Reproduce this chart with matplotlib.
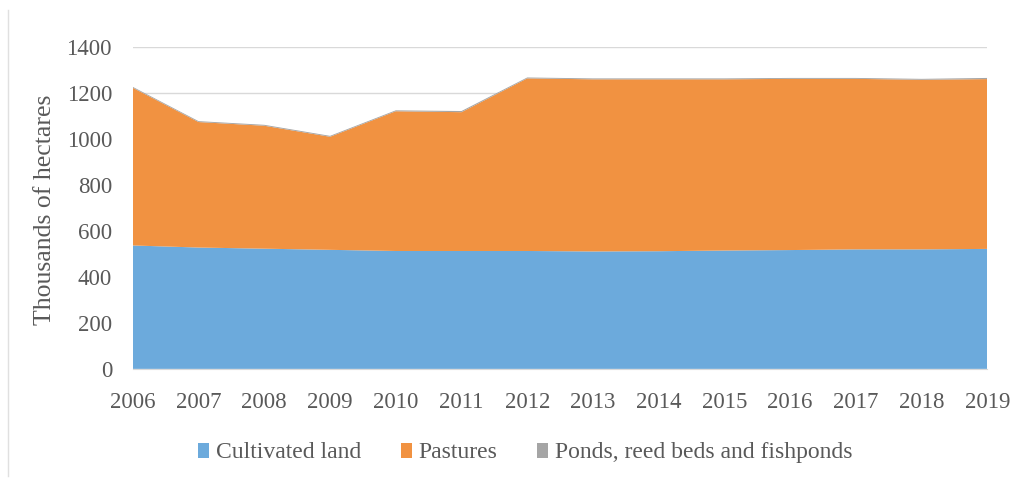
import matplotlib
matplotlib.use("Agg")
import matplotlib.pyplot as plt
from matplotlib.lines import Line2D
from matplotlib.patches import Patch

years = [2006, 2007, 2008, 2009, 2010, 2011, 2012, 2013, 2014, 2015, 2016, 2017, 2018, 2019]
cultivated = [537, 528, 523, 518, 513, 513, 513, 511, 512, 515, 517, 520, 520, 522]
pastures = [686, 546, 535, 492, 608, 604, 751, 749, 748, 745, 745, 742, 738, 739]
ponds = [4, 4, 4, 4, 4, 5, 4, 4, 4, 4, 4, 4, 4, 5]
series_names = ["Cultivated land", "Pastures", "Ponds, reed beds and fishponds"]
colors = ["#6CAADC", "#F19241", "#A5A5A5"]
yticks = [0, 200, 400, 600, 800, 1000, 1200, 1400]

plt.rcParams['font.family'] = ['Liberation Serif', 'DejaVu Serif']

fig = plt.figure(figsize=(10.22, 4.86), dpi=100)
ax = fig.add_axes([0.130, 0.241, 0.836, 0.662])

ax.stackplot(years, cultivated, pastures, ponds, colors=colors, linewidth=0, zorder=2)

ax.set_xlim(years[0], years[-1])
ax.set_ylim(0, 1400)
ax.set_yticks(yticks)
ax.set_xticks(years)
ax.set_xticklabels([str(y) for y in years])
ax.grid(axis='y', color='#D9D9D9', linewidth=1, zorder=1)
ax.set_axisbelow(True)
for s in ['top', 'right', 'left']:
    ax.spines[s].set_visible(False)
ax.spines['bottom'].set_color('#D9D9D9')
ax.tick_params(axis='both', length=0, labelsize=16.5, labelcolor='#595959')
ax.tick_params(axis='x', pad=17)
ax.tick_params(axis='y', pad=15)
ax.set_ylabel("Thousands of hectares", fontsize=18.5, color='#595959')
ax.yaxis.set_label_coords(-0.090, 0.494)

handles = [Patch(facecolor=c, edgecolor='none') for c in colors]
leg = fig.legend(handles, series_names, loc='center', bbox_to_anchor=(0.514, 0.068), ncol=3,
                 frameon=False, fontsize=17, handlelength=0.47, handleheight=0.6,
                 handletextpad=0.3, columnspacing=1.65, labelcolor='#595959')

fig.add_artist(Line2D([0.008, 0.008], [0.02, 0.98], transform=fig.transFigure, color='#E0E0E0', linewidth=1))

fig.savefig("out.png", dpi=100)
